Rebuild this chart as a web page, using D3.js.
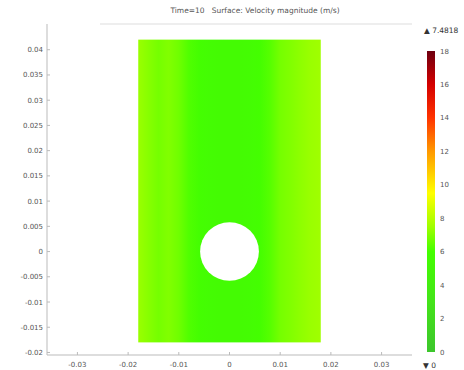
<!DOCTYPE html>
<html>
<head>
<meta charset="utf-8">
<script src="https://cdn.jsdelivr.net/npm/d3@7"></script>
<style>
  body { margin: 0; background: #fff; }
  svg { display: block; font-family: "DejaVu Sans", sans-serif; }
  .title { white-space: pre; }
</style>
</head>
<body>
<svg id="chart" width="464" height="370"></svg>
<script>
// chart data
const title = 'Time=10   Surface: Velocity magnitude (m/s)'
const xTicks = [-0.03, -0.02, -0.01, 0, 0.01, 0.02, 0.03]
const yTicks = [0.04, 0.035, 0.03, 0.025, 0.02, 0.015, 0.01, 0.005, 0, -0.005, -0.01, -0.015, -0.02]
const colorTicks = [0, 2, 4, 6, 8, 10, 12, 14, 16, 18]
const maxLabel = '7.4818'
const minLabel = '0'

// channel geometry (m)
const channelX = [-0.018, 0.018]
const channelY = [-0.018, 0.042]
const cylinder = { cx: 0, cy: 0, r: 0.0058 }

// velocity magnitude across the channel width
const profileX = [-0.018, -0.016, -0.014, -0.012, -0.010, -0.008, -0.006, -0.004, -0.002, 0,
  0.002, 0.004, 0.006, 0.008, 0.010, 0.012, 0.014, 0.016, 0.018]
const profileV = [7.4, 7.1, 6.8, 7.0, 6.7, 6.2, 5.9, 5.7, 5.6, 5.6,
  5.6, 5.7, 5.9, 6.3, 6.8, 7.0, 7.2, 7.4, 7.5]

// colour table (traffic light)
const cmapValues = [0, 3, 6, 7.5, 9.5, 12, 14, 16, 18]
const cmapColors = ['#3cc62c', '#44e41a', '#44ff00', '#a0ff00', '#ffff00', '#ff9900', '#ff3300', '#d40000', '#6e0010']

const svg = d3.select('#chart')
const color = d3.scaleLinear().domain(cmapValues).range(cmapColors)

// plot scales, equal aspect
const xScale = d3.scaleLinear().domain([-0.036, 0.036]).range([47, 412])
const yScale = d3.scaleLinear().domain([-0.0205, 0.0451]).range([355, 24])

svg.append('text')
  .attr('class', 'title')
  .attr('x', 255).attr('y', 13)
  .attr('text-anchor', 'middle')
  .attr('font-size', 7.5).attr('fill', '#555')
  .text(title)

// frame
svg.append('line')
  .attr('x1', 100).attr('x2', 412).attr('y1', 24).attr('y2', 24)
  .attr('stroke', '#ddd')
svg.append('line')
  .attr('x1', 47).attr('x2', 47).attr('y1', 24).attr('y2', 355)
  .attr('stroke', '#bbb')
svg.append('line')
  .attr('x1', 47).attr('x2', 412).attr('y1', 355).attr('y2', 355)
  .attr('stroke', '#bbb')

// gradient for the field
const defs = svg.append('defs')
const grad = defs.append('linearGradient')
  .attr('id', 'field')
  .attr('x1', '0%').attr('x2', '100%').attr('y1', '0%').attr('y2', '0%')
profileX.forEach(function (x, i) {
  grad.append('stop')
    .attr('offset', ((x - channelX[0]) / (channelX[1] - channelX[0]) * 100) + '%')
    .attr('stop-color', color(profileV[i]))
})

svg.append('rect')
  .attr('x', xScale(channelX[0]))
  .attr('y', yScale(channelY[1]))
  .attr('width', xScale(channelX[1]) - xScale(channelX[0]))
  .attr('height', yScale(channelY[0]) - yScale(channelY[1]))
  .attr('fill', 'url(#field)')

svg.append('ellipse')
  .attr('cx', xScale(cylinder.cx))
  .attr('cy', yScale(cylinder.cy))
  .attr('rx', xScale(cylinder.r) - xScale(0))
  .attr('ry', yScale(0) - yScale(cylinder.r))
  .attr('fill', '#fff')

// axes
const yAxis = svg.append('g')
yTicks.forEach(function (t) {
  const y = yScale(t)
  yAxis.append('line').attr('x1', 47).attr('x2', 50).attr('y1', y).attr('y2', y).attr('stroke', '#bbb')
  yAxis.append('text')
    .attr('x', 43).attr('y', y + 2.5)
    .attr('text-anchor', 'end')
    .attr('font-size', 7).attr('fill', '#555')
    .text(t)
})

const xAxis = svg.append('g')
xTicks.forEach(function (t) {
  const x = xScale(t)
  xAxis.append('line').attr('x1', x).attr('x2', x).attr('y1', 352).attr('y2', 355).attr('stroke', '#bbb')
  xAxis.append('text')
    .attr('x', x).attr('y', 367)
    .attr('text-anchor', 'middle')
    .attr('font-size', 7).attr('fill', '#555')
    .text(t)
})

// colour bar
const cScale = d3.scaleLinear().domain([0, 18]).range([352, 51])
const cgrad = defs.append('linearGradient')
  .attr('id', 'cbar')
  .attr('x1', '0%').attr('x2', '0%').attr('y1', '100%').attr('y2', '0%')
cmapValues.forEach(function (v, i) {
  cgrad.append('stop')
    .attr('offset', (Math.min(v, 18) / 18 * 100) + '%')
    .attr('stop-color', cmapColors[i])
})
svg.append('rect')
  .attr('x', 427).attr('y', cScale(18))
  .attr('width', 8).attr('height', cScale(0) - cScale(18))
  .attr('fill', 'url(#cbar)')

colorTicks.forEach(function (t) {
  svg.append('text')
    .attr('x', 440).attr('y', cScale(t) + 2.5)
    .attr('font-size', 7).attr('fill', '#555')
    .text(t)
})

svg.append('text')
  .attr('x', 424).attr('y', 33)
  .attr('font-size', 7.5).attr('fill', '#333')
  .text('\u25B2 ' + maxLabel)
svg.append('text')
  .attr('x', 423).attr('y', 368)
  .attr('font-size', 7.5).attr('fill', '#333')
  .text('\u25BC ' + minLabel)
</script>
</body>
</html>
